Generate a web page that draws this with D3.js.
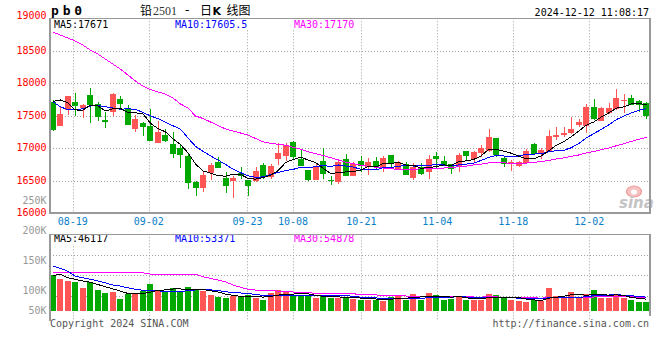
<!DOCTYPE html>
<html><head><meta charset="utf-8">
<script src="https://cdn.jsdelivr.net/npm/d3@7"></script>
<style>
body{margin:0;background:#fff}
svg{display:block}
text{font-family:"DejaVu Sans Mono",monospace;font-size:10px}
</style>
</head><body>
<svg id="c" width="660" height="360"></svg>
<script>
// ---------------- DATA ----------------
const dates = ["08-14","08-15","08-16","08-19","08-20","08-21","08-22","08-23","08-26","08-27","08-28","08-29","08-30",
"09-02","09-03","09-04","09-05","09-06","09-09","09-10","09-11","09-12","09-13","09-18","09-19","09-20","09-23","09-24","09-25","09-26","09-27","09-30",
"10-08","10-09","10-10","10-11","10-14","10-15","10-16","10-17","10-18","10-21","10-22","10-23","10-24","10-25","10-28","10-29","10-30","10-31",
"11-01","11-04","11-05","11-06","11-07","11-08","11-11","11-12","11-13","11-14","11-15","11-18","11-19","11-20","11-21","11-22","11-25","11-26","11-27","11-28","11-29",
"12-02","12-03","12-04","12-05","12-06","12-09","12-10","12-11","12-12"];

const open  = [17720,17350,17590,17710,17615,17820,17680,17440,17565,17760,17625,17300,17395,17350,17085,17205,17065,17000,16880,16480,
               16395,16625,16785,16550,16497,16615,16510,16500,16745,16565,16835,16886,17097,16830,16666,16512,16805,16512,16477,16835,
               16578,16805,16717,16805,16717,16897,16666,16754,16548,16717,16640,16886,16805,16758,16717,16958,16835,16923,16958,17154,
               16855,16763,16728,16769,17066,16912,16948,17174,17200,17240,17358,17348,17630,17425,17548,17605,17728,17769,17732,17692];
const high  = [17740,17640,17810,17850,17680,17925,17720,17565,17855,17805,17670,17510,17400,17605,17420,17300,17245,17065,16925,16490,
               16630,16775,16860,16630,16580,16710,16520,16715,16775,16765,17077,17086,17112,16975,16670,16758,17000,16578,16805,16908,
               16785,16886,16855,16871,16882,16900,16810,16785,16769,16769,16897,16948,16886,16765,16923,16965,16955,17051,17297,17160,
               16870,16820,16800,16989,17086,17009,17282,17323,17323,17486,17446,17681,17758,17640,17702,17908,17835,17820,17740,17717];
const low   = [17270,17345,17510,17500,17460,17385,17425,17310,17500,17590,17355,17255,17190,17105,17080,17100,16855,16700,16370,16265,
               16330,16510,16695,16315,16240,16528,16265,16485,16530,16523,16743,16805,16830,16730,16497,16510,16528,16435,16451,16575,
               16575,16631,16589,16666,16640,16717,16660,16589,16512,16589,16528,16702,16730,16605,16631,16805,16794,16871,16948,16871,
               16708,16651,16717,16754,16897,16835,16940,17128,17178,17215,17323,17231,17440,17420,17523,17589,17538,17660,17563,17451];
const close = [17280,17530,17810,17655,17660,17665,17477,17410,17835,17680,17360,17450,17335,17110,17255,17120,16910,16895,16470,16395,
               16590,16745,16700,16425,16548,16578,16425,16650,16555,16728,16932,17050,16871,16732,16512,16728,16605,16490,16785,16578,
               16754,16728,16785,16717,16855,16754,16794,16589,16717,16600,16835,16835,16732,16682,16897,16882,16948,17009,17178,16897,
               16754,16785,16785,16958,16912,16974,17189,17205,17231,17297,17409,17640,17451,17615,17615,17769,17743,17666,17666,17502];
const volume = [143000,127000,120000,116000,92000,116000,83000,72000,76000,47000,69000,72000,79000,107000,83000,76000,91000,80000,95000,83000,
                79000,63000,56000,52000,59000,56000,63000,53000,43000,72000,83000,76000,60000,60000,60000,51000,60000,53000,53000,53000,
                49000,45000,45000,43000,40000,56000,63000,45000,67000,45000,72000,63000,43000,49000,59000,45000,45000,45000,67000,63000,
                53000,43000,40000,36000,45000,40000,92000,59000,53000,76000,53000,67000,83000,53000,53000,63000,53000,43000,36000,36000];

// moving-average values before enough history exists
const ma5Head  = [17720,17745,17700,17590];
const ma10Head = [17720,17640,17595,17590,17610,17650,17660,17640,17620];
const ma30Head = [18789,18743,18697,18651,18589,18512,18451,18374,18297,18220,18128,18035,17958,17905,17866,17835,17774,17682,17620,
                  17497,17458,17405,17351,17297,17266,17235,17205,17150,17100];
const vma5Head  = [140000,147000,132000,126000];
const vma10Head = [179000,170000,159000,139000,132000,126000,120000,112000,103000];
const vma30Head = [152000,152000,152000,152000,152000,152000,152000,152000,152000,152000,152000,152000,152000,
                   147000,147000,147000,147000,147000,147000,147000,136000,130000,123000,116000,103000,94000,86000,83000,80000];

const priceTicks = [19000,18500,18000,17500,17000,16500,16000];
const volTicks = [250000,200000,150000,100000,50000];
const volTickLabels = ["250K","200K","150K","100K","50K"];
const dateTicks = ["08-19","09-02","09-23","10-08","10-21","11-04","11-18","12-02"];
const priceMaText = ["MA5:17671","MA10:17605.5","MA30:17170"];
const volMaText = ["MA5:46117","MA10:53371","MA30:54878"];
const maColors = ["#000000","#0000ff","#ff00ff"];

// ---------------- LAYOUT ----------------
const svg = d3.select("#c");
const L = 50, R = 650;
const pTop = 18.3, pBot = 213.3, vTop = 234.3, vBase = 310.7, vBot = 316;
const GRID = "#a0a0a0", BORDER = "#999999";
const UP = "#ff5555", DOWN = "#00a800";

const x = d3.scaleBand().domain(dates).range([49.7, 649.5]).paddingInner(0.2).paddingOuter(0);
const bw = x.bandwidth();
const cx = d => x(d) + bw / 2;
const gx = d3.scaleLinear().domain([0, dates.length - 1]).range([L, R]);
const y = d3.scaleLinear().domain([16000, 19000]).range([pBot, pTop]);
const vy = d3.scaleLinear().domain([0, 307000]).range([vBase, vTop]);
const vLabelY = d3.scaleLinear().domain([50000, 250000]).range([321, 200]);

function movingAvg(vals, n, head) {
  return vals.map((v, i) => i < n - 1 ? head[i] : d3.mean(vals.slice(i - n + 1, i + 1)));
}
const maP = [movingAvg(close, 5, ma5Head), movingAvg(close, 10, ma10Head), movingAvg(close, 30, ma30Head)];
const maV = [movingAvg(volume, 5, vma5Head), movingAvg(volume, 10, vma10Head), movingAvg(volume, 30, vma30Head)];

const candles = dates.map((d, i) => ({d, o: open[i], h: high[i], l: low[i], c: close[i], v: volume[i]}));
const colorOf = d => d.c >= d.o ? UP : DOWN;
const px = v => Math.round(v) + 0.5;

// ---------------- GRID ----------------
const grid = svg.append("g").attr("stroke", GRID).attr("stroke-dasharray", "1,2").attr("fill", "none");
priceTicks.slice(1, -1).forEach(t => {
  grid.append("line").attr("x1", L).attr("x2", R).attr("y1", px(y(t))).attr("y2", px(y(t)));
});
for (let k = 1; k <= 3; k++) {
  const yy = px(vTop + k * (vBot - vTop) / 4);
  grid.append("line").attr("x1", L).attr("x2", R).attr("y1", yy).attr("y2", yy);
}
dateTicks.forEach(t => {
  const xx = px(gx(dates.indexOf(t)));
  grid.append("line").attr("x1", xx).attr("x2", xx).attr("y1", pTop).attr("y2", pBot);
  grid.append("line").attr("x1", xx).attr("x2", xx).attr("y1", vTop).attr("y2", 320);
});

// ---------------- CANDLES ----------------
const cg = svg.append("g").attr("shape-rendering", "crispEdges");
cg.selectAll("rect.wick").data(candles).join("rect").attr("class", "wick")
  .attr("x", d => Math.round(x(d.d)) + 3).attr("width", 1)
  .attr("y", d => y(d.h)).attr("height", d => Math.max(1, y(d.l) - y(d.h)))
  .attr("fill", colorOf);
cg.selectAll("rect.body").data(candles).join("rect").attr("class", "body")
  .attr("x", d => Math.round(x(d.d))).attr("width", 6)
  .attr("y", d => y(Math.max(d.o, d.c)))
  .attr("height", d => Math.max(1, Math.abs(y(d.o) - y(d.c))))
  .attr("fill", colorOf);

// ---------------- VOLUME BARS ----------------
cg.selectAll("rect.vol").data(candles).join("rect").attr("class", "vol")
  .attr("x", d => Math.round(x(d.d))).attr("width", 6)
  .attr("y", d => vy(d.v)).attr("height", d => vBase - vy(d.v))
  .attr("fill", colorOf);

// ---------------- MA LINES ----------------
const lineP = d3.line().x((v, i) => cx(dates[i])).y(v => y(v));
const lineV = d3.line().x((v, i) => cx(dates[i])).y(v => vy(v));
const mg = svg.append("g").attr("fill", "none").attr("stroke-width", 1).attr("shape-rendering", "crispEdges");
[2, 1, 0].forEach(k => {
  mg.append("path").attr("d", lineP(maP[k])).attr("stroke", maColors[k]);
  mg.append("path").attr("d", lineV(maV[k])).attr("stroke", maColors[k]);
});

// ---------------- SINA LOGO ----------------
const logo = svg.append("g");
logo.append("ellipse").attr("cx", 634).attr("cy", 191.5).attr("rx", 7.5).attr("ry", 5.5)
  .attr("fill", "#f6c2c2").attr("stroke", "#ef9a9a").attr("stroke-width", 1.2);
logo.append("ellipse").attr("cx", 634).attr("cy", 192).attr("rx", 3).attr("ry", 2.5).attr("fill", "#ffffff");
logo.append("text").attr("x", 619).attr("y", 207.5).text("sina")
  .style("font-family", "DejaVu Sans").style("font-size", "15px").style("font-weight", "bold")
  .style("font-style", "italic").attr("fill", "#c4c4c4");

// ---------------- MA TEXT (with white backing) ----------------
const maTextX = [54, 175, 294];
function maLabels(texts, baseY) {
  const lg = svg.append("g");
  const bgG = lg.append("g");
  texts.forEach((t, k) => {
    const tx = lg.append("text").attr("x", maTextX[k]).attr("y", baseY).attr("fill", maColors[k]).text(t);
    const w = tx.node().getComputedTextLength();
    bgG.append("rect").attr("x", maTextX[k] - 1).attr("y", baseY - 8.5).attr("width", w + 2).attr("height", 10.5).attr("fill", "#fff");
  });
}
maLabels(priceMaText, 27.5);
maLabels(volMaText, 242);

// ---------------- BORDERS ----------------
const bg = svg.append("g").attr("stroke", BORDER).attr("shape-rendering", "crispEdges");
bg.append("line").attr("x1", L).attr("x2", R + 1).attr("y1", 18.5).attr("y2", 18.5).attr("stroke-width", 1);
bg.append("line").attr("x1", L).attr("x2", R + 1).attr("y1", 213).attr("y2", 213).attr("stroke-width", 2);
bg.append("line").attr("x1", L).attr("x2", L).attr("y1", 18).attr("y2", 214).attr("stroke-width", 2);
bg.append("line").attr("x1", R).attr("x2", R).attr("y1", 18).attr("y2", 214).attr("stroke-width", 2);
bg.append("line").attr("x1", L).attr("x2", R + 1).attr("y1", 234.5).attr("y2", 234.5).attr("stroke-width", 1.5);
bg.append("line").attr("x1", L).attr("x2", L).attr("y1", 234).attr("y2", 321).attr("stroke-width", 2);
bg.append("line").attr("x1", R).attr("x2", R).attr("y1", 234).attr("y2", 316).attr("stroke-width", 2);

// ---------------- AXIS LABELS ----------------
priceTicks.forEach((t, i) => {
  svg.append("text").attr("x", 46.5).attr("y", y(t) + (i === 0 ? 0.8 : 3)).attr("text-anchor", "end")
    .attr("fill", "#ff0000").text(d3.format("d")(t));
});
volTicks.forEach((t, i) => {
  svg.append("text").attr("x", 46.5).attr("y", Math.min(vLabelY(t), 310.3) + 3.6).attr("text-anchor", "end")
    .attr("fill", "#999999").text(volTickLabels[i]);
});
dateTicks.forEach(t => {
  svg.append("text").attr("x", gx(dates.indexOf(t))).attr("y", 225.3).attr("text-anchor", "middle")
    .attr("fill", "#0a80c8").text(t);
});

// ---------------- HEADER / FOOTER ----------------
svg.append("text").attr("x", 51).attr("y", 14.5).text("pb0")
  .style("font-size", "13px").style("font-weight", "bold").style("letter-spacing", "3.8px").attr("fill", "#000");
svg.append("text").attr("x", 140).attr("y", 15).text("铅")
  .style("font-family", "'Noto Sans CJK SC'").style("font-size", "12px").attr("fill", "#000");
svg.append("text").attr("x", 153).attr("y", 15).text("2501")
  .style("font-family", "'Liberation Serif'").style("font-size", "12px").attr("fill", "#333");
svg.append("text").attr("x", 185).attr("y", 14).text("-")
  .style("font-family", "'DejaVu Sans'").style("font-size", "12px").attr("fill", "#000");
svg.append("text").attr("x", 200).attr("y", 15).text("日")
  .style("font-family", "'Noto Sans CJK SC'").style("font-size", "12px").attr("fill", "#000");
svg.append("text").attr("x", 212.5).attr("y", 15).text("K")
  .style("font-family", "'DejaVu Sans'").style("font-size", "11px").style("font-weight", "bold").attr("fill", "#000");
svg.append("text").attr("x", 226.5).attr("y", 15).text("线图")
  .style("font-family", "'Noto Sans CJK SC'").style("font-size", "12px").attr("fill", "#000");
svg.append("text").attr("x", 649).attr("y", 15.7).attr("text-anchor", "end").attr("fill", "#000").text("2024-12-12 11:08:17");
svg.append("text").attr("x", 50).attr("y", 327.3).attr("fill", "#555").text("Copyright 2024 SINA.COM");
svg.append("text").attr("x", 649).attr("y", 327.3).attr("text-anchor", "end").attr("fill", "#555").text("http://finance.sina.com.cn");
</script>
</body></html>
